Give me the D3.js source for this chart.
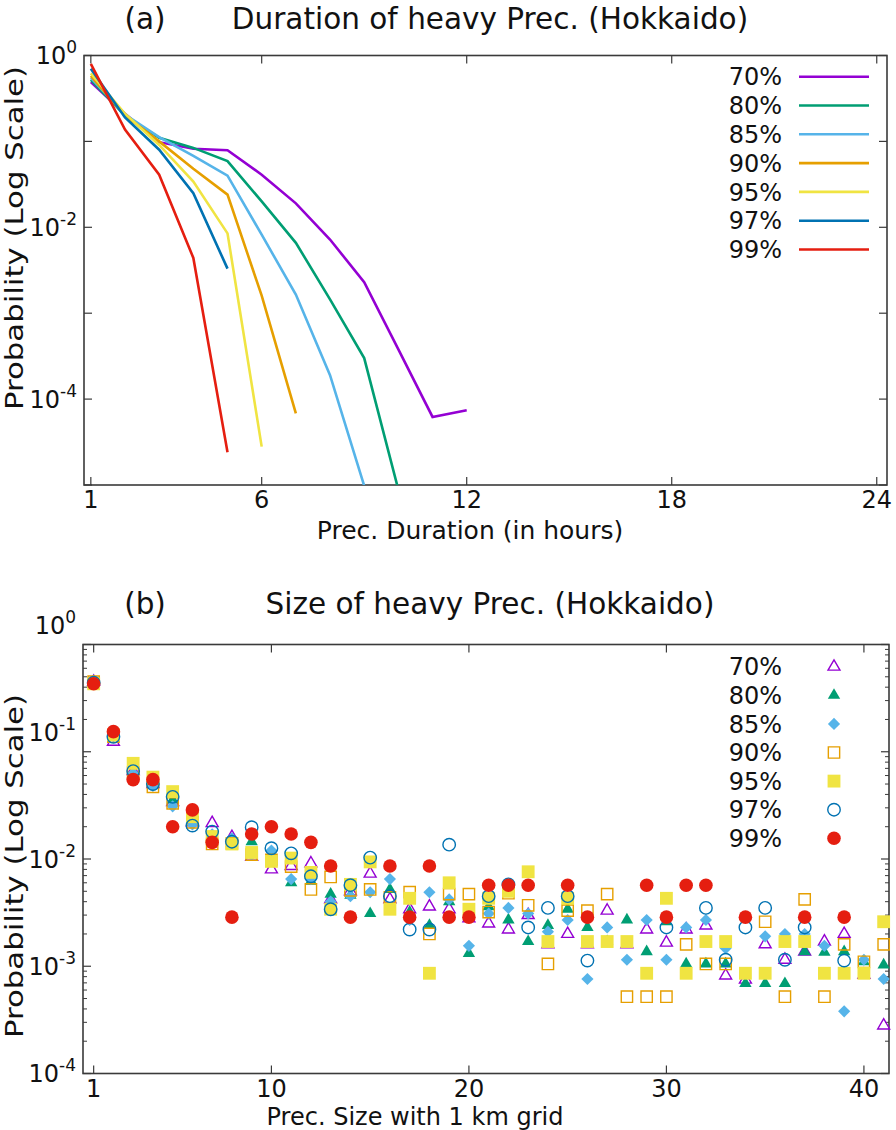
<!DOCTYPE html>
<html>
<head>
<meta charset="utf-8">
<script src="https://cdn.jsdelivr.net/npm/d3@7"></script>
<style>
  body { margin: 0; background: #fff; }
  svg { display: block; font-family: 'DejaVu Sans', sans-serif; }
</style>
</head>
<body>
<svg id="chart" width="896" height="1130"></svg>
<script>
const levels = ['70%', '80%', '85%', '90%', '95%', '97%', '99%']
const colors = ['#9400d3', '#009e73', '#56b4e9', '#e69f00', '#f0e442', '#0072b2', '#e51e10']

// (a) probability of a heavy-prec. event lasting 1, 2, 3 ... hours
const dur70 = [0.49, 0.21, 0.098, 0.082, 0.079, 0.041, 0.019, 0.0072, 0.0023, 0.00038, 0.000062, 0.000074]
const dur80 = [0.52, 0.2, 0.11, 0.084, 0.059, 0.020, 0.0066, 0.00145, 0.00030, 0.0000088]
const dur85 = [0.55, 0.205, 0.112, 0.068, 0.040, 0.0082, 0.00165, 0.00019, 0.0000098]
const dur90 = [0.58, 0.2, 0.10, 0.048, 0.024, 0.0016, 0.000068]
const dur95 = [0.62, 0.21, 0.091, 0.034, 0.0085, 0.000028]
const dur97 = [0.70, 0.19, 0.080, 0.025, 0.0033]
const dur99 = [0.80, 0.137, 0.041, 0.0044, 0.000024]
const durTicks = [1, 6, 12, 18, 24]

// (b) probability of event size 1, 2, 3 ... grid cells (null = no point)
const size70 = [0.45, 0.124, 0.066, 0.050, 0.034, 0.022, 0.0216, 0.016, 0.0105, 0.0080,
  0.0086, 0.0091, 0.0042, 0.0050, 0.0073, 0.0042, 0.0034, 0.0036, 0.0034, 0.0028,
  0.0025, 0.0022, 0.0030, 0.0016, 0.0020, 0.0016, 0.0033, 0.0016, 0.0022, 0.00166,
  0.0022, 0.0024, 0.00082, 0.00075, 0.0016, 0.00115, 0.00137, 0.0017, 0.0020, 0.00083, 0.00028]
const size80 = [0.44, 0.135, 0.062, 0.050, 0.0355, 0.022, 0.016, 0.014, 0.0145, 0.0095,
  0.0060, 0.0062, 0.0047, 0.0046, 0.0031, 0.0052, 0.0032, 0.0024, 0.0040, 0.00132,
  0.0036, 0.0027, 0.0017, 0.0024, 0.0034, 0.0023, 0.0017, 0.0027, 0.00137, 0.0026,
  0.00105, 0.00105, 0.00105, 0.00069, 0.00069, 0.00069, 0.00137, 0.00135, 0.00137, 0.0011, 0.00103]
const size85 = [0.46, 0.14, 0.063, 0.048, 0.031, 0.021, 0.017, 0.0156, 0.011, 0.012,
  0.0065, 0.0065, 0.0040, 0.0045, 0.0049, 0.0065, 0.0027, 0.0049, 0.0042, 0.00155,
  0.0031, 0.0035, 0.0031, 0.0021, 0.0027, 0.00076, 0.0023, 0.00115, 0.0027, 0.00115,
  0.0023, 0.0027, 0.00147, null, 0.0019, 0.0020, 0.0020, 0.00155, 0.00038, 0.00115, 0.00076]
const size90 = [0.45, 0.138, 0.064, 0.047, 0.033, 0.022, 0.0138, 0.014, 0.011, 0.0098,
  0.0085, 0.0052, 0.0068, 0.0051, 0.0052, 0.0044, 0.0049, 0.0020, 0.0047, 0.0047,
  0.0032, 0.0048, 0.0037, 0.00105, 0.0033, 0.0033, 0.0047, 0.00052, 0.00052, 0.00052,
  0.0016, 0.00105, 0.00105, null, 0.0026, 0.00052, 0.0042, 0.00052, 0.0016, 0.0011, 0.0016]
const size95 = [0.43, 0.144, 0.078, 0.058, 0.0425, 0.0248, 0.0162, 0.0138, 0.0115, 0.0095,
  0.0102, 0.0075, 0.0034, 0.0058, 0.0094, 0.0034, 0.0043, 0.00086, 0.0060, 0.0034,
  0.0043, 0.0050, 0.0076, 0.0017, 0.0043, 0.0017, 0.0017, 0.0017, 0.00086, 0.0043,
  0.00086, 0.0017, 0.0017, 0.00086, 0.00086, 0.0017, 0.0017, 0.00086, 0.00086, 0.00086, 0.0026]
const size97 = [0.44, 0.138, 0.066, 0.050, 0.038, 0.0205, 0.018, 0.0145, 0.0198, 0.0126,
  0.0113, 0.0069, 0.0034, 0.0057, 0.0103, 0.0045, 0.0022, 0.0022, 0.0136, null,
  0.0045, 0.0058, 0.0023, 0.0035, 0.0045, 0.00113, null, null, null, 0.0023,
  null, 0.0035, 0.00115, 0.0023, 0.0035, 0.00115, 0.0023, null, 0.00113, null, null]
const size99 = [0.43, 0.154, 0.055, 0.055, 0.020, 0.0287, 0.0143, 0.00287, 0.0171, 0.020,
  0.0171, 0.0143, 0.0086, 0.00287, null, 0.0086, 0.00287, 0.0086, 0.00287, 0.00287,
  0.0057, 0.0057, 0.0057, null, 0.0057, 0.00287, null, null, 0.0057, 0.00287,
  0.0057, 0.0057, null, 0.00287, null, null, 0.00287, null, 0.00287, null, null]
const sizeTicks = [1, 10, 20, 30, 40]

const durSeries = [dur70, dur80, dur85, dur90, dur95, dur97, dur99]
const sizeSeries = [size70, size80, size85, size90, size95, size97, size99]

const svg = d3.select('#chart')
const ink = '#3a3a3a'

// gnuplot-like point types
const markers = [
  { type: d3.symbolTriangle, size: 62, fill: false },
  { type: d3.symbolTriangle, size: 66, fill: true },
  { type: d3.symbolSquare, size: 74, fill: true, rotate: 45 },
  { type: d3.symbolSquare, size: 128, fill: false },
  { type: d3.symbolSquare, size: 165, fill: true },
  { type: d3.symbolCircle, size: 122, fill: false },
  { type: d3.symbolCircle, size: 145, fill: true }
]

function drawMarker(sel, k) {
  const m = markers[k]
  sel.append('path')
    .attr('d', d3.symbol().type(m.type).size(m.size)())
    .attr('transform', d => `translate(${d[0]},${d[1]})` + (m.rotate ? ` rotate(${m.rotate})` : ''))
    .attr('fill', m.fill ? colors[k] : 'none')
    .attr('stroke', m.fill ? 'none' : colors[k])
    .attr('stroke-width', 1.4)
}

function supLabel(g, px, py, exp) {
  const t = g.append('text')
    .attr('x', px).attr('y', py)
    .attr('dy', '0.36em')
    .attr('text-anchor', 'end')
    .attr('font-size', 24)
    .attr('fill', '#111')
  t.append('tspan').text('10')
  t.append('tspan').attr('dy', -11).attr('font-size', 17).text(exp)
}

function frame(x, y, xTicks, labelDecades, minor, labelNudge) {
  const [x0, x1] = x.range()
  const [y0, y1] = y.range()
  const g = svg.append('g')
  g.append('rect')
    .attr('x', x0).attr('y', y1)
    .attr('width', x1 - x0).attr('height', y0 - y1)
    .attr('fill', 'none').attr('stroke', ink).attr('stroke-width', 1.6)

  xTicks.forEach(v => {
    g.append('line').attr('x1', x(v)).attr('x2', x(v)).attr('y1', y0).attr('y2', y0 - 8)
      .attr('stroke', ink).attr('stroke-width', 1.2)
    g.append('line').attr('x1', x(v)).attr('x2', x(v)).attr('y1', y1).attr('y2', y1 + 8)
      .attr('stroke', ink).attr('stroke-width', 1.2)
    g.append('text').attr('x', x(v)).attr('y', y0 + 23)
      .attr('text-anchor', 'middle').attr('font-size', 24).attr('fill', '#111')
      .text(v)
  })

  const [lo, hi] = y.domain().map(v => Math.round(Math.log10(v)))
  for (let e = lo; e <= hi; e++) {
    const v = Math.pow(10, e)
    ;[[x0, 8], [x1, -8]].forEach(([px, len]) => {
      g.append('line').attr('x1', px).attr('x2', px + len).attr('y1', y(v)).attr('y2', y(v))
        .attr('stroke', ink).attr('stroke-width', 1.2)
    })
    if (minor && e < hi) {
      for (let m = 2; m <= 9; m++) {
        ;[[x0, 4], [x1, -4]].forEach(([px, len]) => {
          g.append('line').attr('x1', px).attr('x2', px + len)
            .attr('y1', y(m * v)).attr('y2', y(m * v))
            .attr('stroke', ink).attr('stroke-width', 1)
        })
      }
    }
    if (labelDecades.includes(e)) supLabel(g, x0 - 7, y(v) + (labelNudge[e] || 0), e)
  }
  return g
}

function legendText(g, px, py, label) {
  g.append('text').attr('x', px).attr('y', py).attr('dy', '0.36em')
    .attr('text-anchor', 'end').attr('font-size', 24).attr('fill', '#111')
    .text(label)
}

function titles(cy, tag, title) {
  svg.append('text').attr('x', 145).attr('y', cy).attr('dy', '0.36em')
    .attr('text-anchor', 'middle').attr('font-size', 29.5).attr('fill', '#111').text(tag)
  svg.append('text').attr('x', 490).attr('y', cy).attr('dy', '0.36em')
    .attr('text-anchor', 'middle').attr('font-size', 29.5).attr('fill', '#111').text(title)
}

// the y titles run longer than the glyph size alone gives
function yTitle(cy) {
  svg.append('text')
    .attr('transform', `translate(14,${cy}) rotate(-90)`)
    .attr('x', -172)
    .attr('dy', '0.36em')
    .attr('font-size', 24).attr('fill', '#111')
    .attr('textLength', 344).attr('lengthAdjust', 'spacingAndGlyphs')
    .text('Probability (Log Scale)')
}

// ---------- (a) duration ----------
const xa = d3.scaleLinear().domain([0.8, 24.3]).range([84, 887])
const ya = d3.scaleLog().domain([1e-5, 1]).range([485, 55.5])

titles(18, '(a)', 'Duration of heavy Prec. (Hokkaido)')
frame(xa, ya, durTicks, [0, -2, -4], false, {})
yTitle(238)
svg.append('text').attr('x', 470).attr('y', 530).attr('dy', '0.36em')
  .attr('text-anchor', 'middle').attr('font-size', 25).attr('fill', '#111')
  .text('Prec. Duration (in hours)')

svg.append('clipPath').attr('id', 'clipA').append('rect')
  .attr('x', 84).attr('y', 55.5).attr('width', 803).attr('height', 429.5)

const line = d3.line().x((d, i) => xa(i + 1)).y(d => ya(d))
const linesA = svg.append('g').attr('clip-path', 'url(#clipA)')
durSeries.forEach((s, k) => {
  linesA.append('path').attr('d', line(s))
    .attr('fill', 'none').attr('stroke', colors[k]).attr('stroke-width', 2.6)
    .attr('stroke-linejoin', 'miter')
})

const legA = svg.append('g')
levels.forEach((lab, k) => {
  const py = 76.7 + k * 28.8
  legendText(legA, 782, py, lab)
  legA.append('line').attr('x1', 799).attr('x2', 869).attr('y1', py).attr('y2', py)
    .attr('stroke', colors[k]).attr('stroke-width', 2.6)
})

// ---------- (b) size ----------
const xb = d3.scaleLinear().domain([0.46, 41.27]).range([83, 889])
const yb = d3.scaleLog().domain([1e-4, 1]).range([1073.5, 644.5])

titles(603, '(b)', 'Size of heavy Prec. (Hokkaido)')
frame(xb, yb, sizeTicks, [0, -1, -2, -3, -4], true, { '0': -19, '-1': -19 })
yTitle(866)
svg.append('text').attr('x', 415).attr('y', 1116).attr('dy', '0.36em')
  .attr('text-anchor', 'middle').attr('font-size', 24).attr('fill', '#111')
  .text('Prec. Size with 1 km grid')

const pointsB = svg.append('g')
sizeSeries.forEach((s, k) => {
  const pts = s.map((v, i) => [xb(i + 1), v == null ? null : yb(v)]).filter(p => p[1] != null)
  pointsB.append('g').selectAll('g').data(pts).enter().append('g')
    .call(sel => drawMarker(sel, k))
})

const legB = svg.append('g')
levels.forEach((lab, k) => {
  const py = 666.7 + k * 28.6
  legendText(legB, 782, py, lab)
  legB.append('g').datum([834, py]).call(sel => drawMarker(sel, k))
})
</script>
</body>
</html>
